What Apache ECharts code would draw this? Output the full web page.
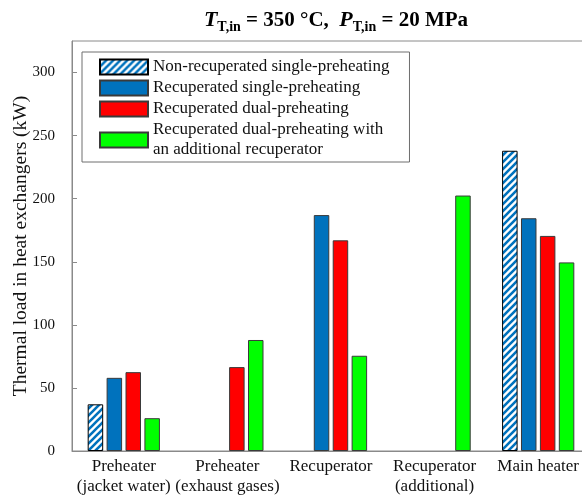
<!DOCTYPE html>
<html>
<head>
<meta charset="utf-8">
<script src="https://cdn.jsdelivr.net/npm/echarts@6/dist/echarts.min.js"></script>
<style>
  html, body { margin: 0; padding: 0; background: #fff; }
  #chart { width: 582px; height: 496px; }
</style>
</head>
<body>
<div id="chart"></div>
<script>
// Heat-exchanger categories along the x axis
const categories = [
  'Preheater\n(jacket water)',
  'Preheater\n(exhaust gases)',
  'Recuperator',
  'Recuperator\n(additional)',
  'Main heater'
];

// Thermal load (kW) for each cycle configuration; null = exchanger not present
const nonRecupSingle = [37, null, null, null, 238];
const recupSingle = [58, null, 187, null, 184.5];
const recupDual = [62.5, 66.5, 167, null, 170.5];
const recupDualExtra = [26, 88, 75.5, 202.5, 149.5];

const seriesNames = [
  'Non-recuperated single-preheating',
  'Recuperated single-preheating',
  'Recuperated dual-preheating',
  'Recuperated dual-preheating with\nan additional recuperator'
];

const yTicks = [0, 50, 100, 150, 200, 250, 300];

const FONT = '"Liberation Serif", "Times New Roman", serif';

// Diagonal blue hatching on white for the non-recuperated bars
function makeHatch() {
  const s = 7;
  const c = document.createElement('canvas');
  c.width = s; c.height = s;
  const g = c.getContext('2d');
  g.fillStyle = '#ffffff';
  g.fillRect(0, 0, s, s);
  g.strokeStyle = '#0072BD';
  g.lineWidth = 2.6;
  g.beginPath();
  g.moveTo(-1, s + 1); g.lineTo(s + 1, -1);
  g.moveTo(-2, 2); g.lineTo(2, -2);
  g.moveTo(s - 2, s + 2); g.lineTo(s + 2, s - 2);
  g.stroke();
  return { image: c, repeat: 'repeat' };
}
const hatch = makeHatch();

const chart = echarts.init(document.getElementById('chart'), null, { renderer: 'canvas' });

function barSeries(name, data, color, border) {
  return {
    name: name,
    type: 'bar',
    data: data,
    barWidth: 15.5,
    barGap: '22%',
    itemStyle: { color: color, borderColor: border, borderWidth: 1 },
    emphasis: { disabled: true }
  };
}

chart.setOption({
  animation: false,
  textStyle: { fontFamily: FONT },
  title: {
    text: '{it|T}{sub|T,in}{b| = 350 °C,  }{it|P}{sub|T,in}{b| = 20 MPa}',
    left: 331,
    textAlign: 'center',
    top: 2,
    textStyle: {
      rich: {
        it: { fontFamily: FONT, fontSize: 22, fontWeight: 'bold', fontStyle: 'italic', color: '#000' },
        sub: { fontFamily: FONT, fontSize: 14, fontWeight: 'bold', color: '#000', verticalAlign: 'bottom', padding: [13, 0, 0, 0] },
        b: { fontFamily: FONT, fontSize: 21, fontWeight: 'bold', color: '#000' }
      }
    }
  },
  legend: {
    left: 82,
    top: 52,
    orient: 'vertical',
    icon: 'rect',
    itemWidth: 48,
    itemHeight: 15,
    itemGap: 1,
    padding: [5, 20, 2, 17],
    borderColor: '#6e6e6e',
    borderWidth: 1,
    backgroundColor: '#fff',
    selectedMode: false,
    textStyle: { fontFamily: FONT, fontSize: 17, color: '#111', lineHeight: 20 },
    data: seriesNames.map((n) => ({ name: n }))
  },
  grid: {
    left: 72,
    top: 41,
    width: 518,
    height: 410,
    show: true,
    borderColor: '#8a8a8a',
    borderWidth: 1,
    containLabel: false,
    outerBoundsMode: 'none'
  },
  xAxis: {
    type: 'category',
    data: categories,
    axisLine: { lineStyle: { color: '#8a8a8a' } },
    axisTick: { show: false },
    axisLabel: { fontFamily: FONT, fontSize: 17, color: '#111', lineHeight: 20, margin: 6, interval: 0 }
  },
  yAxis: {
    type: 'value',
    min: 0,
    max: 325,
    interval: 50,
    name: 'Thermal load in heat exchangers (kW)',
    nameLocation: 'middle',
    nameGap: 41,
    nameRotate: 90,
    nameMoveOverlap: false,
    nameTextStyle: { fontFamily: FONT, fontSize: 19.5, color: '#111' },
    axisLine: { show: true, lineStyle: { color: '#8a8a8a' } },
    axisTick: { show: true, inside: true, length: 5, lineStyle: { color: '#8a8a8a' } },
    splitLine: { show: false },
    axisLabel: {
      fontFamily: FONT, fontSize: 15, color: '#111', margin: 17,
      showMaxLabel: false,
      formatter: (v) => (yTicks.indexOf(v) >= 0 ? String(v) : '')
    }
  },
  series: [
    barSeries(seriesNames[0], nonRecupSingle, hatch, '#000000'),
    barSeries(seriesNames[1], recupSingle, '#0072BD', '#3a3a3a'),
    barSeries(seriesNames[2], recupDual, '#FF0000', '#3a3a3a'),
    barSeries(seriesNames[3], recupDualExtra, '#00FF00', '#3a3a3a')
  ]
});
</script>
</body>
</html>
